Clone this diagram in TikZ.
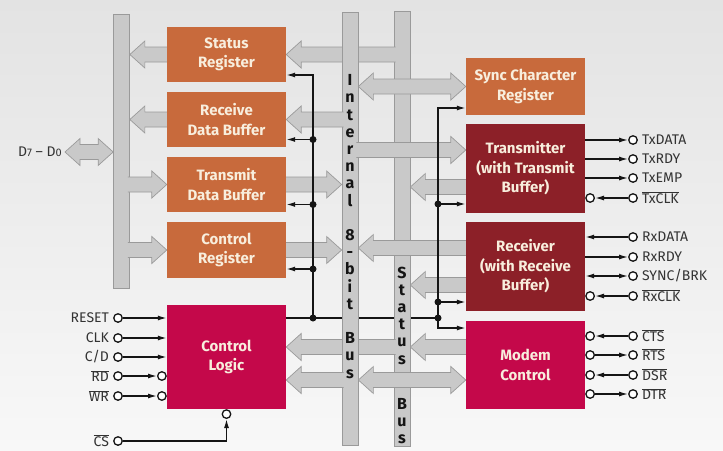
\documentclass[tikz,border=0pt]{standalone}
\usepackage{fontspec}
\setmainfont{Fira Sans}
\usetikzlibrary{arrows.meta,calc}
\definecolor{BoxOrange}{HTML}{C86A3C}
\definecolor{BoxDarkRed}{HTML}{8C2028}
\definecolor{BoxCrimson}{HTML}{C4084A}
\definecolor{BoxText}{HTML}{F8EEDD}
\definecolor{BusFill}{HTML}{C9C9C9}
\definecolor{BusEdge}{HTML}{9A9A9A}
\definecolor{BusInk}{HTML}{141414}
\definecolor{PinInk}{HTML}{151515}
\definecolor{PinText}{HTML}{333333}
\definecolor{PageTop}{HTML}{E3E3E3}
\definecolor{PageBottom}{HTML}{F8F8F8}
\pgfdeclarelayer{busses}
\pgfsetlayers{busses,main}
\newcommand{\ovl}[1]{$\overline{\mbox{#1}}$}

\begin{document}
\begin{tikzpicture}[x=1pt,y=-1pt,
    font=\fontsize{14}{16}\selectfont,
    >={Latex[length=9pt,width=5pt]},
    label distance=3pt,
    regbox/.style={fill=BoxOrange,text=BoxText,font=\fontsize{15}{19.5}\selectfont\bfseries,minimum width=119pt,inner sep=0pt,align=center},
    unitbox/.style={regbox,fill=BoxDarkRed},
    ctrlbox/.style={regbox,fill=BoxCrimson},
    busbar/.style={draw=BusEdge,fill=BusFill,line width=0.7pt,minimum width=16pt,inner sep=0pt},
    busword/.style={font=\fontsize{16}{17.2}\selectfont\bfseries,text=BusInk,align=center,inner sep=0pt,anchor=north},
    pin/.style={circle,draw=PinInk,fill=white,line width=1.3pt,inner sep=0pt,minimum size=8.5pt},
    pinlabel/.style={text=PinText,inner sep=1pt},
    wire/.style={draw=PinInk,line width=1.4pt},
    jdot/.style={circle,fill=PinInk,inner sep=0pt,minimum size=7pt},
    fatarrow/.style={draw=BusEdge,fill=BusFill,line width=0.7pt,
      to path={let \p1=(\tikztostart),\p2=(\tikztotarget),\n1={sign(\x2-\x1)} in
        ({\x1-(\n1)*2pt},{\y1+7.5pt}) -- ({\x2-(\n1)*15pt},{\y1+7.5pt}) -- ({\x2-(\n1)*15pt},{\y1+13.5pt})
        -- (\x2,\y1) -- ({\x2-(\n1)*15pt},{\y1-13.5pt}) -- ({\x2-(\n1)*15pt},{\y1-7.5pt}) -- ({\x1-(\n1)*2pt},{\y1-7.5pt})}},
    fatdouble/.style={draw=BusEdge,fill=BusFill,line width=0.7pt,
      to path={let \p1=(\tikztostart),\p2=(\tikztotarget),\n1={sign(\x2-\x1)} in
        (\x1,\y1) -- ({\x1+(\n1)*15pt},{\y1+13.5pt}) -- ({\x1+(\n1)*15pt},{\y1+7.5pt}) -- ({\x2-(\n1)*15pt},{\y1+7.5pt})
        -- ({\x2-(\n1)*15pt},{\y1+13.5pt}) -- (\x2,\y1) -- ({\x2-(\n1)*15pt},{\y1-13.5pt}) -- ({\x2-(\n1)*15pt},{\y1-7.5pt})
        -- ({\x1+(\n1)*15pt},{\y1-7.5pt}) -- ({\x1+(\n1)*15pt},{\y1-13.5pt}) -- cycle}}
  ]
  \useasboundingbox (0,0) rectangle (723,450);

  % registers and units
  \node[regbox,minimum height=55pt] (sreg) at (226.5,54.5) {Status\\Register};
  \node[regbox,minimum height=55pt] (rbuf) at (226.5,119.5) {Receive\\Data Buffer};
  \node[regbox,minimum height=55pt] (tbuf) at (226.5,184.5) {Transmit\\Data Buffer};
  \node[regbox,minimum height=56pt] (creg) at (226.5,250) {Control\\Register};
  \node[ctrlbox,minimum height=104pt] (clog) at (226.5,357) {Control\\Logic};
  \node[regbox,minimum height=57pt] (sync) at (525.5,86.5) {Sync Character\\Register};
  \node[unitbox,minimum height=89pt] (tx) at (525.5,168.5) {Transmitter\\(with Transmit\\Buffer)};
  \node[unitbox,minimum height=89pt] (rx) at (525.5,266.5) {Receiver\\(with Receive\\Buffer)};
  \node[ctrlbox,minimum height=88pt] (modem) at (525.5,365) {Modem\\Control};

  % arrow levels
  \coordinate (clog-s) at ([yshift=10pt]clog.east);
  \coordinate (clog-i) at ([yshift=-23pt]clog.east);
  \coordinate (tx-a) at ([yshift=18.5pt]tx.west);
  \coordinate (tx-b) at ([yshift=-18.5pt]tx.west);
  \coordinate (rx-a) at ([yshift=18.5pt]rx.west);
  \coordinate (rx-b) at ([yshift=-18.5pt]rx.west);
  \coordinate (mdm-a) at ([yshift=18pt]modem.west);
  \coordinate (mdm-b) at ([yshift=-15pt]modem.west);
  \coordinate (lj) at (313,318);
  \coordinate (rj) at (438,318);

  \node[pinlabel,anchor=east] (dlab) at (63,152) {D{\fontsize{11}{12}\selectfont7} -- D{\fontsize{11}{12}\selectfont0}};

  \begin{pgfonlayer}{busses}
    \shade[top color=PageTop,bottom color=PageBottom] (0,0) rectangle (723,450);
    \draw[wire] (clog.east |- lj) -- (rj);
    \node[busbar,minimum height=274pt] (dbus) at (121.5,151) {};
    \node[busbar,minimum height=435pt] (sbus) at (402,228.5) {};
    % status bus under the internal bus
    \draw[fatarrow] (sreg.east -| sbus.west) to (sreg.east);
    \draw[fatarrow] (clog-s -| sbus.west) to (clog-s);
    \node[busbar,minimum height=433pt] (ibus) at (350,228.5) {};
    % data bus side
    \draw[fatdouble] ([xshift=2pt]dlab.east) to (dlab.east -| dbus.west);
    \draw[fatarrow] (sreg.west) to (sreg.west -| dbus.east);
    \draw[fatarrow] (rbuf.west) to (rbuf.west -| dbus.east);
    \draw[fatarrow] (tbuf.west -| dbus.east) to (tbuf.west);
    \draw[fatarrow] (creg.west -| dbus.east) to (creg.west);
    % internal bus
    \draw[fatarrow] (rbuf.east -| ibus.west) to (rbuf.east);
    \draw[fatarrow] (tbuf.east) to (tbuf.east -| ibus.west);
    \draw[fatarrow] (creg.east) to (creg.east -| ibus.west);
    \draw[fatarrow] (clog-i -| ibus.west) to (clog-i);
    \draw[fatdouble] (sync.west -| ibus.east) to (sync.west);
    \draw[fatarrow] (tx-a -| ibus.east) to (tx-a);
    \draw[fatarrow] (tx-b) to (tx-b -| sbus.east);
    \draw[fatarrow] (rx-a) to (rx-a -| ibus.east);
    \draw[fatarrow] (rx-b) to (rx-b -| sbus.east);
    \draw[fatarrow] (mdm-a) to (mdm-a -| sbus.east);
    \draw[fatdouble] (mdm-b -| ibus.east) to (mdm-b);
  \end{pgfonlayer}

  \node[busword] (ibname) at (350,74.5) {I\\n\\t\\e\\r\\n\\a\\l\\[17.2pt]8\\-\\b\\i\\t\\[17.2pt]B\\u\\s};
  \node[busword] (sbname) at (402,266.5) {S\\t\\a\\t\\u\\s\\[28.3pt]B\\u\\s};

  % control lines
  \coordinate (sreg-c) at ([yshift=-20.5pt]sreg.east);
  \coordinate (rbuf-c) at ([yshift=-20pt]rbuf.east);
  \coordinate (tbuf-c) at ([yshift=-20pt]tbuf.east);
  \coordinate (creg-c) at ([yshift=-19pt]creg.east);
  \coordinate (sync-c) at ([yshift=-21.5pt]sync.west);
  \coordinate (tx-c) at ([yshift=-35.5pt]tx.west);
  \coordinate (rx-c) at ([yshift=-35.5pt]rx.west);
  \coordinate (mdm-c) at ([yshift=37pt]modem.west);
  \draw[wire,->] (lj) |- (sreg-c);
  \foreach \b in {rbuf,tbuf,creg} {
    \draw[wire,->] (lj |- \b-c) -- (\b-c);
    \node[jdot] (\b-dot) at (lj |- \b-c) {};
  }
  \node[jdot] (lj-dot) at (lj) {};
  \draw[wire,->] (rj) |- (sync-c);
  \draw[wire,->] (rj) |- (mdm-c);
  \foreach \b in {tx,rx} {
    \draw[wire,->] (rj |- \b-c) -- (\b-c);
    \node[jdot] (\b-dot) at (rj |- \b-c) {};
  }
  \node[jdot] (rj-dot) at (rj) {};

  % control logic pins
  \foreach \p/\y/\txt in {reset/318/RESET,clk/338/CLK} {
    \node[pin,label={[pinlabel]left:\txt}] (\p) at (118,\y) {};
    \draw[wire,->] (\p) -- (clog.west |- \p);
  }
  \node[pin,label={[pinlabel]left:C/D}] (cd) at (118,357) {};
  \draw[wire,->] (cd) -- (clog.west |- cd);
  \foreach \p/\y/\txt in {rd/376/RD,wr/396/WR} {
    \node[pin,label={[pinlabel]left:\ovl{\txt}}] (\p) at (118,\y) {};
    \node[pin,anchor=east] (\p-b) at (clog.west |- \p) {};
    \draw[wire,->] (\p) -- (\p-b);
  }
  \node[pin,label={[pinlabel]left:\ovl{CS}}] (cs) at (118,441) {};
  \node[pin,anchor=north] (cs-b) at (clog.south) {};
  \draw[wire,->] (cs) -| (cs-b);

  % transmitter pins
  \foreach \p/\y/\txt in {txdata/140/TxDATA,txrdy/159/TxRDY,txemp/178/TxEMP} {
    \node[pin,label={[pinlabel]right:\txt}] (\p) at (633,\y) {};
    \draw[wire,->] (tx.east |- \p) -- (\p);
  }
  \node[pin,label={[pinlabel]right:\ovl{TxCLK}}] (txclk) at (633,198) {};
  \node[pin,anchor=west] (txclk-b) at (tx.east |- txclk) {};
  \draw[wire,->] (txclk) -- (txclk-b);

  % receiver pins
  \node[pin,label={[pinlabel]right:RxDATA}] (rxdata) at (633,237) {};
  \draw[wire,->] (rxdata) -- (rx.east |- rxdata);
  \node[pin,label={[pinlabel]right:RxRDY}] (rxrdy) at (633,257) {};
  \draw[wire,->] (rx.east |- rxrdy) -- (rxrdy);
  \node[pin,label={[pinlabel]right:SYNC/BRK}] (brk) at (633,276) {};
  \draw[wire,<->] (rx.east |- brk) -- (brk);
  \node[pin,label={[pinlabel]right:\ovl{RxCLK}}] (rxclk) at (633,296) {};
  \node[pin,anchor=west] (rxclk-b) at (rx.east |- rxclk) {};
  \draw[wire,->] (rxclk) -- (rxclk-b);

  % modem pins
  \foreach \p/\y/\txt in {cts/336/CTS,dsr/375/DSR} {
    \node[pin,label={[pinlabel]right:\ovl{\txt}}] (\p) at (633,\y) {};
    \node[pin,anchor=west] (\p-b) at (modem.east |- \p) {};
    \draw[wire,->] (\p) -- (\p-b);
  }
  \foreach \p/\y/\txt in {rts/355/RTS,dtr/394/DTR} {
    \node[pin,label={[pinlabel]right:\ovl{\txt}}] (\p) at (633,\y) {};
    \node[pin,anchor=west] (\p-b) at (modem.east |- \p) {};
    \draw[wire,->] (\p-b) -- (\p);
  }
\end{tikzpicture}
\end{document}
